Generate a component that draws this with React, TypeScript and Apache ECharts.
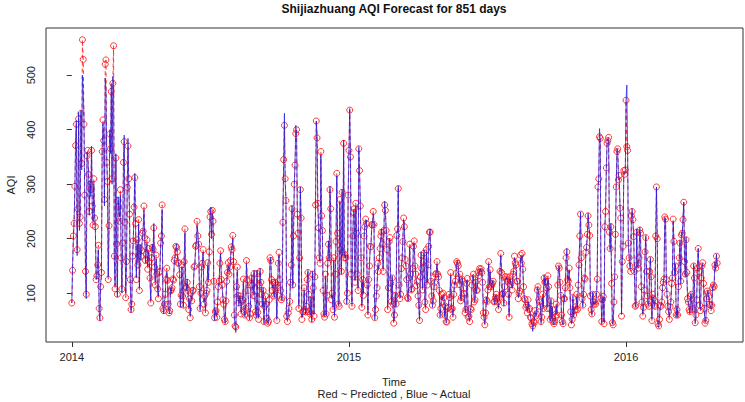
import React, { useEffect, useRef } from "react";
import * as echarts from "echarts";

// Day 0 = 2014-01-01, 851 consecutive days
const yearTickDays = [0, 365, 730];
const yearTickLabels = ["2014", "2015", "2016"];
const aqiTicks = [100, 200, 300, 400, 500];

const actual = [
  82,150,196,235,285,383,417,169,267,432,215,246,435,326,500,471,425,267,148,90,
  359,350,326,243,307,277,370,252,231,300,246,215,130,126,160,180,65,50,120,130,
  368,411,387,260,495,470,350,295,130,215,400,356,485,300,498,480,160,114,356,180,
  93,277,250,240,280,172,100,200,332,390,221,99,150,301,384,300,252,117,65,87,
  160,203,250,320,220,130,190,160,227,110,190,160,185,200,220,252,210,155,180,190,
  150,175,165,120,87,157,190,175,228,140,120,163,140,102,95,130,145,185,210,253,
  77,62,85,93,130,140,130,74,68,62,110,100,115,120,130,155,170,180,190,170,
  160,150,140,74,100,148,100,74,163,211,117,105,126,100,74,85,59,95,90,100,
  110,142,154,180,194,225,212,185,117,68,105,142,160,175,85,90,68,95,110,150,
  125,170,246,258,200,246,240,117,50,70,62,59,80,117,117,160,172,130,110,93,
  75,56,44,90,117,142,150,140,142,165,179,185,200,163,56,40,28,117,142,100,
  77,95,90,65,80,93,120,70,56,75,154,130,100,80,51,65,110,133,110,100,
  142,90,70,56,142,60,56,110,145,115,102,75,110,44,80,90,85,50,48,44,
  93,160,166,120,110,115,100,93,125,110,53,105,160,169,130,100,93,87,237,335,
  430,301,277,53,50,60,77,80,125,148,261,110,210,295,341,408,393,250,203,77,
  160,295,230,56,62,70,105,75,62,80,120,142,93,70,59,93,47,140,105,62,
  126,270,416,393,258,225,160,160,353,249,208,110,59,59,130,59,100,150,196,160,
  296,249,93,95,75,160,59,130,200,315,215,77,80,267,185,135,290,170,381,170,
  165,170,80,105,286,356,439,356,130,80,200,252,250,125,260,215,130,110,369,320,
  267,160,77,120,100,200,227,230,234,110,63,120,155,180,190,220,230,246,231,51,
  74,90,114,150,145,160,187,200,218,185,145,210,269,248,220,175,74,105,200,197,
  123,80,132,76,48,56,100,75,212,212,297,110,95,93,150,160,200,234,228,157,
  155,120,96,86,133,185,140,102,111,140,191,191,155,130,118,117,98,74,53,126,
  175,140,110,154,179,79,74,175,120,147,191,209,218,117,99,74,90,108,125,130,
  140,154,140,125,110,56,75,93,88,95,96,56,80,45,50,68,77,93,96,133,
  74,68,59,93,120,117,140,154,160,146,120,130,90,87,130,117,105,93,68,65,
  123,122,60,55,50,68,75,110,133,130,87,84,125,100,110,133,136,140,145,140,
  142,115,67,53,44,60,93,80,110,154,117,139,117,110,123,117,87,80,96,93,
  93,80,74,87,145,169,142,93,105,77,117,126,130,126,126,93,59,126,120,117,
  110,130,145,164,160,148,126,117,93,96,108,165,160,169,148,108,93,84,77,74,
  68,84,74,68,59,50,44,30,44,50,65,62,59,111,108,93,80,80,44,60,
  93,75,133,115,127,105,75,127,117,68,49,90,53,74,45,42,45,59,77,62,
  120,145,150,115,100,56,45,42,95,86,115,160,182,120,126,142,115,62,45,48,
  96,56,71,71,74,93,74,110,157,200,249,160,93,74,102,123,130,170,188,203,
  247,220,212,90,74,59,102,80,84,80,84,93,130,289,316,402,380,93,44,93,
  90,47,218,255,325,381,384,381,218,178,228,114,44,44,80,135,203,300,365,359,
  313,310,261,234,62,154,191,319,322,322,454,482,369,188,170,145,145,237,255,230,
  209,136,80,74,218,148,151,160,221,206,117,80,62,71,111,172,206,136,99,77,
  80,136,166,126,53,93,93,74,80,200,295,206,40,37,56,74,80,80,114,117,
  130,240,230,130,93,80,62,56,71,87,114,132,231,200,133,154,56,74,56,117,
  160,197,117,212,206,240,267,163,130,203,133,93,80,74,62,99,93,74,68,154,
  123,44,56,93,142,182,145,74,71,123,154,151,123,68,47,47,93,99,105,90,
  84,74,71,74,114,111,117,157,142,172,150,
];

const predicted = [
  82,142,205,228,296,371,410,180,255,420,228,240,430,338,565,529,410,280,140,98,
  352,362,318,250,300,290,362,260,225,310,238,222,125,132,152,188,72,55,112,138,
  360,418,380,272,520,528,340,305,125,224,392,365,470,310,485,554,168,108,348,190,
  98,270,258,232,290,165,108,192,340,378,230,92,158,294,370,310,245,125,70,80,
  168,196,258,312,228,125,198,152,235,105,182,168,178,210,214,260,202,160,172,198,
  144,182,158,128,82,165,184,180,220,148,115,170,135,108,90,138,140,192,205,262,
  72,68,80,98,125,146,124,80,64,68,104,106,110,126,124,160,165,186,184,176,
  155,156,134,80,96,152,95,78,158,218,112,110,120,105,70,90,55,100,86,105,
  105,148,150,186,188,232,205,190,112,72,100,148,155,180,80,95,64,100,105,156,
  120,176,240,250,208,252,232,122,55,66,68,56,84,112,122,155,178,125,115,88,
  80,52,48,86,122,138,156,135,148,160,185,180,206,158,60,40,38,112,148,96,
  82,90,95,62,85,88,126,66,60,72,160,125,105,76,55,62,115,128,115,96,
  136,95,66,60,136,65,52,115,140,120,98,80,105,48,76,95,80,54,45,48,
  88,165,160,125,105,120,95,98,120,115,50,110,155,175,125,105,88,92,230,345,
  408,310,270,58,48,64,72,85,120,152,255,115,205,300,335,393,400,245,210,72,
  165,290,238,52,66,66,110,70,66,76,125,138,98,66,62,88,52,135,110,58,
  130,262,416,385,265,220,165,155,360,242,215,105,62,56,135,62,96,155,190,165,
  290,255,88,100,70,165,56,135,195,320,210,80,76,272,180,140,285,175,375,165,
  170,165,85,100,280,362,436,350,135,76,205,248,255,120,265,210,135,105,365,325,
  260,165,74,125,96,205,222,236,228,115,60,125,150,186,185,226,225,250,226,55,
  70,95,110,155,140,165,182,205,212,190,140,215,262,252,215,180,70,110,195,202,
  118,85,128,80,45,60,96,80,206,218,292,115,90,98,145,165,195,238,222,162,
  150,125,92,90,128,190,135,106,108,145,186,196,150,135,114,122,95,78,50,130,
  170,145,106,158,174,84,70,180,115,152,186,212,212,122,95,78,86,112,120,135,
  136,158,135,130,105,60,72,98,85,100,92,60,76,48,47,72,74,98,92,138,
  70,72,56,98,115,122,136,158,155,150,116,135,86,92,126,122,100,98,64,70,
  118,127,56,58,48,72,70,115,128,135,84,88,120,105,106,138,132,145,140,145,
  138,120,64,56,42,64,88,85,106,158,112,143,112,115,118,122,84,85,92,98,
  90,84,70,92,140,173,138,98,100,82,112,130,126,130,122,98,56,130,116,122,
  106,135,140,168,156,152,122,122,90,100,104,170,155,173,144,112,90,88,74,78,
  64,88,70,72,56,54,44,40,48,46,68,58,62,106,112,88,84,76,48,56,
  98,72,128,120,122,110,72,132,112,72,52,86,56,70,48,44,48,56,80,60,
  115,150,146,120,96,60,48,44,90,90,110,165,176,125,122,146,110,66,42,52,
  92,60,68,75,70,98,70,115,152,205,245,165,90,78,98,128,126,175,184,208,
  242,225,206,95,70,62,98,84,80,84,80,98,126,295,310,387,384,90,48,88,
  94,44,222,250,330,375,380,386,212,182,222,118,46,42,84,130,208,295,360,365,
  308,316,256,238,58,158,186,325,318,326,454,369,362,192,165,150,140,242,250,235,
  204,140,76,78,212,152,146,165,216,210,112,84,58,74,106,176,202,140,95,80,
  76,140,162,130,50,98,90,78,76,205,295,200,44,40,52,78,76,84,110,120,
  126,240,236,125,98,76,66,52,75,84,118,128,236,195,138,150,60,70,60,112,
  165,192,122,207,210,235,267,158,135,198,138,90,84,70,66,95,98,70,72,150,
  128,46,60,88,146,182,140,78,68,128,150,156,118,72,45,50,90,104,100,94,
  80,78,68,78,110,115,112,152,146,168,155,
];

const FONT = "'Liberation Sans', Arial, Helvetica, sans-serif";

export default function App() {
  const ref = useRef<HTMLDivElement>(null);

  useEffect(() => {
    if (!ref.current) return;
    const chart = echarts.init(ref.current, null, { renderer: "svg" });
    const n = actual.length;
    const xPad = (n - 1) * 0.04;

    chart.setOption({
      animation: false,
      backgroundColor: "#ffffff",
      textStyle: { fontFamily: FONT },
      grid: {
        left: 46,
        right: 2,
        top: 28,
        bottom: 60,
        show: true,
        borderColor: "#333",
        borderWidth: 1,
        backgroundColor: "transparent",
      },
      xAxis: {
        type: "value",
        min: -xPad,
        max: n - 1 + xPad,
        axisLine: { show: false },
        splitLine: { show: false },
        axisTick: {
          show: true,
          inside: false,
          length: 5,
          customValues: yearTickDays,
          lineStyle: { color: "#333", width: 1 },
        },
        axisLabel: {
          customValues: yearTickDays,
          formatter: (v: number) => yearTickLabels[yearTickDays.indexOf(Math.round(v))] ?? "",
          margin: 9,
          fontSize: 11,
          color: "#222",
          fontFamily: FONT,
        },
      },
      yAxis: {
        type: "value",
        min: 10.5,
        max: 586.6,
        axisLine: { show: false },
        splitLine: { show: false },
        axisTick: {
          show: true,
          inside: false,
          length: 5,
          customValues: aqiTicks,
          lineStyle: { color: "#333", width: 1 },
        },
        axisLabel: {
          customValues: aqiTicks,
          rotate: 90,
          margin: 10,
          fontSize: 11,
          color: "#222",
          fontFamily: FONT,
        },
      },
      graphic: [
        {
          type: "text",
          x: 394,
          y: 9,
          style: {
            text: "Shijiazhuang AQI Forecast for 851 days",
            font: `bold 12px ${FONT}`,
            fill: "#111",
            align: "center",
            verticalAlign: "middle",
          },
        },
        {
          type: "text",
          x: 394,
          y: 382,
          style: {
            text: "Time",
            font: `11px ${FONT}`,
            fill: "#222",
            align: "center",
            verticalAlign: "middle",
          },
        },
        {
          type: "text",
          x: 394,
          y: 394,
          style: {
            text: "Red ~ Predicted , Blue ~ Actual",
            font: `11px ${FONT}`,
            fill: "#222",
            align: "center",
            verticalAlign: "middle",
          },
        },
        {
          type: "text",
          x: 11,
          y: 185,
          rotation: Math.PI / 2,
          style: {
            text: "AQI",
            font: `11px ${FONT}`,
            fill: "#222",
            align: "center",
            verticalAlign: "middle",
          },
        },
      ],
      series: [
        {
          name: "Predicted",
          type: "line",
          data: predicted.map((v, i) => [i, v]),
          symbol: "circle",
          symbolSize: 6,
          showSymbol: true,
          silent: true,
          itemStyle: { color: "rgba(0,0,0,0)", borderColor: "#ff2020", borderWidth: 0.9 },
          lineStyle: { color: "#ff2020", width: 0.9, type: [4, 3] },
          z: 2,
        },
        {
          name: "Actual",
          type: "line",
          data: actual.map((v, i) => [i, v]),
          symbol: "none",
          silent: true,
          lineStyle: { color: "#1a1ae6", width: 0.9, opacity: 0.8 },
          z: 3,
        },
      ],
    });

    return () => chart.dispose();
  }, []);

  return (
    <div
      ref={ref}
      style={{ position: "fixed", left: 0, top: 0, width: 745, height: 402 }}
    />
  );
}
